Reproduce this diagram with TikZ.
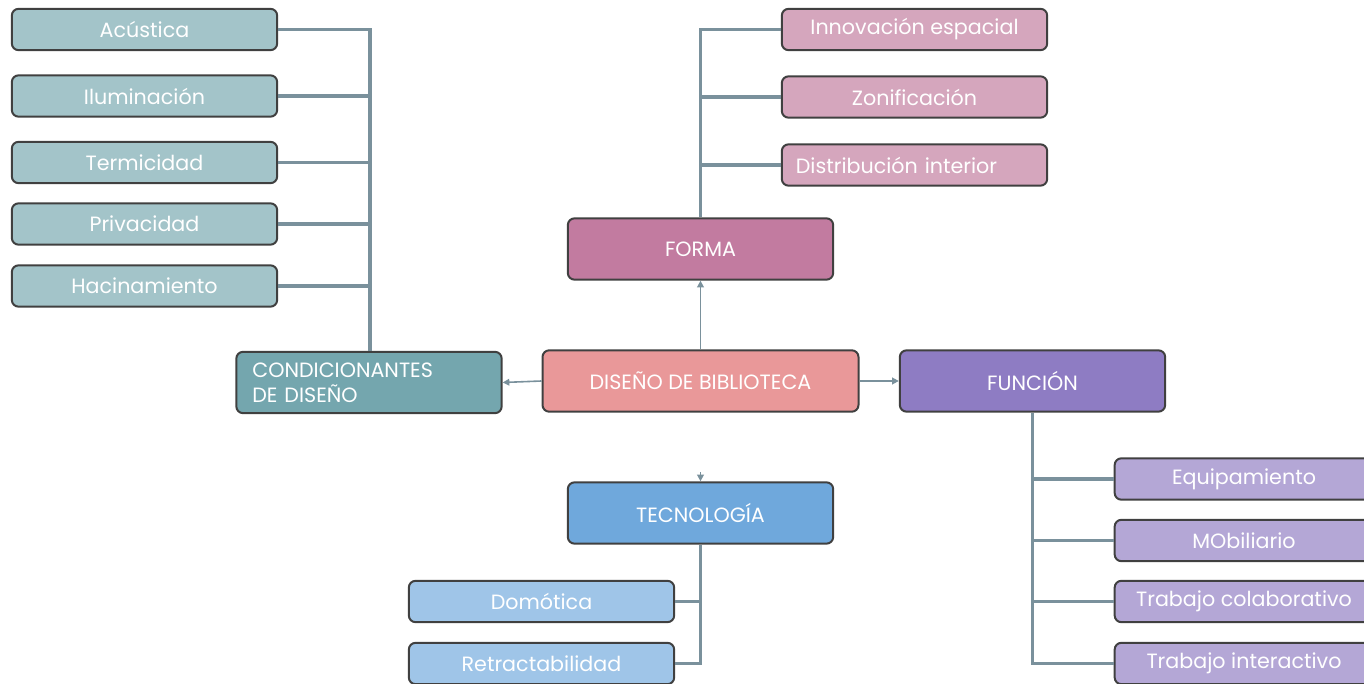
\documentclass[tikz,border=0pt]{standalone}
\usepackage{fontspec}
\setmainfont{Poppins}
\usetikzlibrary{arrows.meta}
\definecolor{cteal}{HTML}{A3C4C9}
\definecolor{cteald}{HTML}{74A6AE}
\definecolor{cpink}{HTML}{E99899}
\definecolor{cpurp}{HTML}{8E7CC3}
\definecolor{cpurpl}{HTML}{B4A7D6}
\definecolor{cmag}{HTML}{C27BA0}
\definecolor{cmagl}{HTML}{D5A6BD}
\definecolor{cblue}{HTML}{6FA8DC}
\definecolor{cbluel}{HTML}{9FC5E8}
\definecolor{cline}{HTML}{7A919C}
\definecolor{cborder}{HTML}{404040}
\tikzset{
  box/.style={draw=cborder, line width=1.5pt, rounded corners=5pt, text=white,
    minimum width=199pt, minimum height=31pt, inner sep=2pt, font=\fontsize{15.5}{19}\selectfont},
  bigbox/.style={box, minimum height=46pt},
  bus/.style={draw=cline, line width=2.6pt},
  arr/.style={draw=cline, line width=1.2pt, -{Triangle[length=5pt,width=5pt]}},
}
\begin{document}
\begin{tikzpicture}[x=0.75pt,y=-0.75pt]
\useasboundingbox (0,0) rectangle (1364,684);
\begin{scope}
\clip (0,0) rectangle (1364,684);
% left column
\node[box, fill=cteal] (a1) at (144.5,29.5) {Acústica};
\node[box, fill=cteal] (a2) at (144.5,96) {Iluminación};
\node[box, fill=cteal] (a3) at (144.5,162.5) {Termicidad};
\node[box, fill=cteal] (a4) at (144.5,224) {Privacidad};
\node[box, fill=cteal] (a5) at (144.5,286) {Hacinamiento};
\node[bigbox, fill=cteald, align=left, text width=175pt, inner xsep=12pt] (cond) at (369,382.5) {CONDICIONANTES\\DE DISEÑO};
% center
\node[bigbox, fill=cpink, minimum width=237pt] (dis) at (700.5,381) {DISEÑO DE BIBLIOTECA};
\node[bigbox, fill=cpurp] (fun) at (1032.5,381) {FUNCIÓN};
\node[bigbox, fill=cmag] (for) at (700.5,249) {FORMA};
\node[bigbox, fill=cblue] (tec) at (700.5,513) {TECNOLOGÍA};
% forma children
\node[box, fill=cmagl] (f1) at (914.5,29.5) {Innovación espacial};
\node[box, fill=cmagl] (f2) at (914.5,97) {Zonificación};
\node[box, fill=cmagl, text width=178pt, align=left, inner xsep=10pt] (f3) at (914.5,165) {Distribución interior};
% funcion children
\node[box, fill=cpurpl, minimum width=194pt] (u1) at (1244,479) {Equipamiento};
\node[box, fill=cpurpl, minimum width=194pt] (u2) at (1244,540.5) {MObiliario};
\node[box, fill=cpurpl, minimum width=194pt] (u3) at (1244,601.5) {Trabajo colaborativo};
\node[box, fill=cpurpl, minimum width=194pt] (u4) at (1244,663.5) {Trabajo interactivo};
% tecnologia children
\node[box, fill=cbluel] (t1) at (541.5,601.5) {Domótica};
\node[box, fill=cbluel] (t2) at (541.5,663.5) {Retractabilidad};
\end{scope}
% buses left
\path (a1.east) -- ++(92,0) coordinate (lb1);
\draw[bus] (a1.east) -- (lb1) -- (lb1 |- cond.north);
\foreach \n in {a2,a3,a4,a5} \draw[bus] (\n.east) -- (\n.east -| lb1);
% forma bus
\coordinate (fb) at (for.north);
\draw[bus] (f1.west) -- (f1.west -| fb) -- (fb);
\foreach \n in {f2,f3} \draw[bus] (\n.west) -- (\n.west -| fb);
% funcion bus
\coordinate (ub) at (fun.south);
\draw[bus] (ub) -- (ub |- u4.west) -- (u4.west);
\foreach \n in {u1,u2,u3} \draw[bus] (\n.west) -- (\n.west -| ub);
% tecnologia bus
\coordinate (tb) at (tec.south);
\draw[bus] (tb) -- (tb |- t2.east) -- (t2.east);
\draw[bus] (t1.east) -- (t1.east -| tb);
% arrows
\draw[arr] (dis.north) -- (for.south);
\draw[arr] (dis.west) -- (cond.east);
\draw[arr] (dis.east) -- (fun.west);
\coordinate (tarr) at ([yshift=7pt]tec.north);
\draw[arr] (tarr) -- (tec.north);
\end{tikzpicture}
\end{document}
